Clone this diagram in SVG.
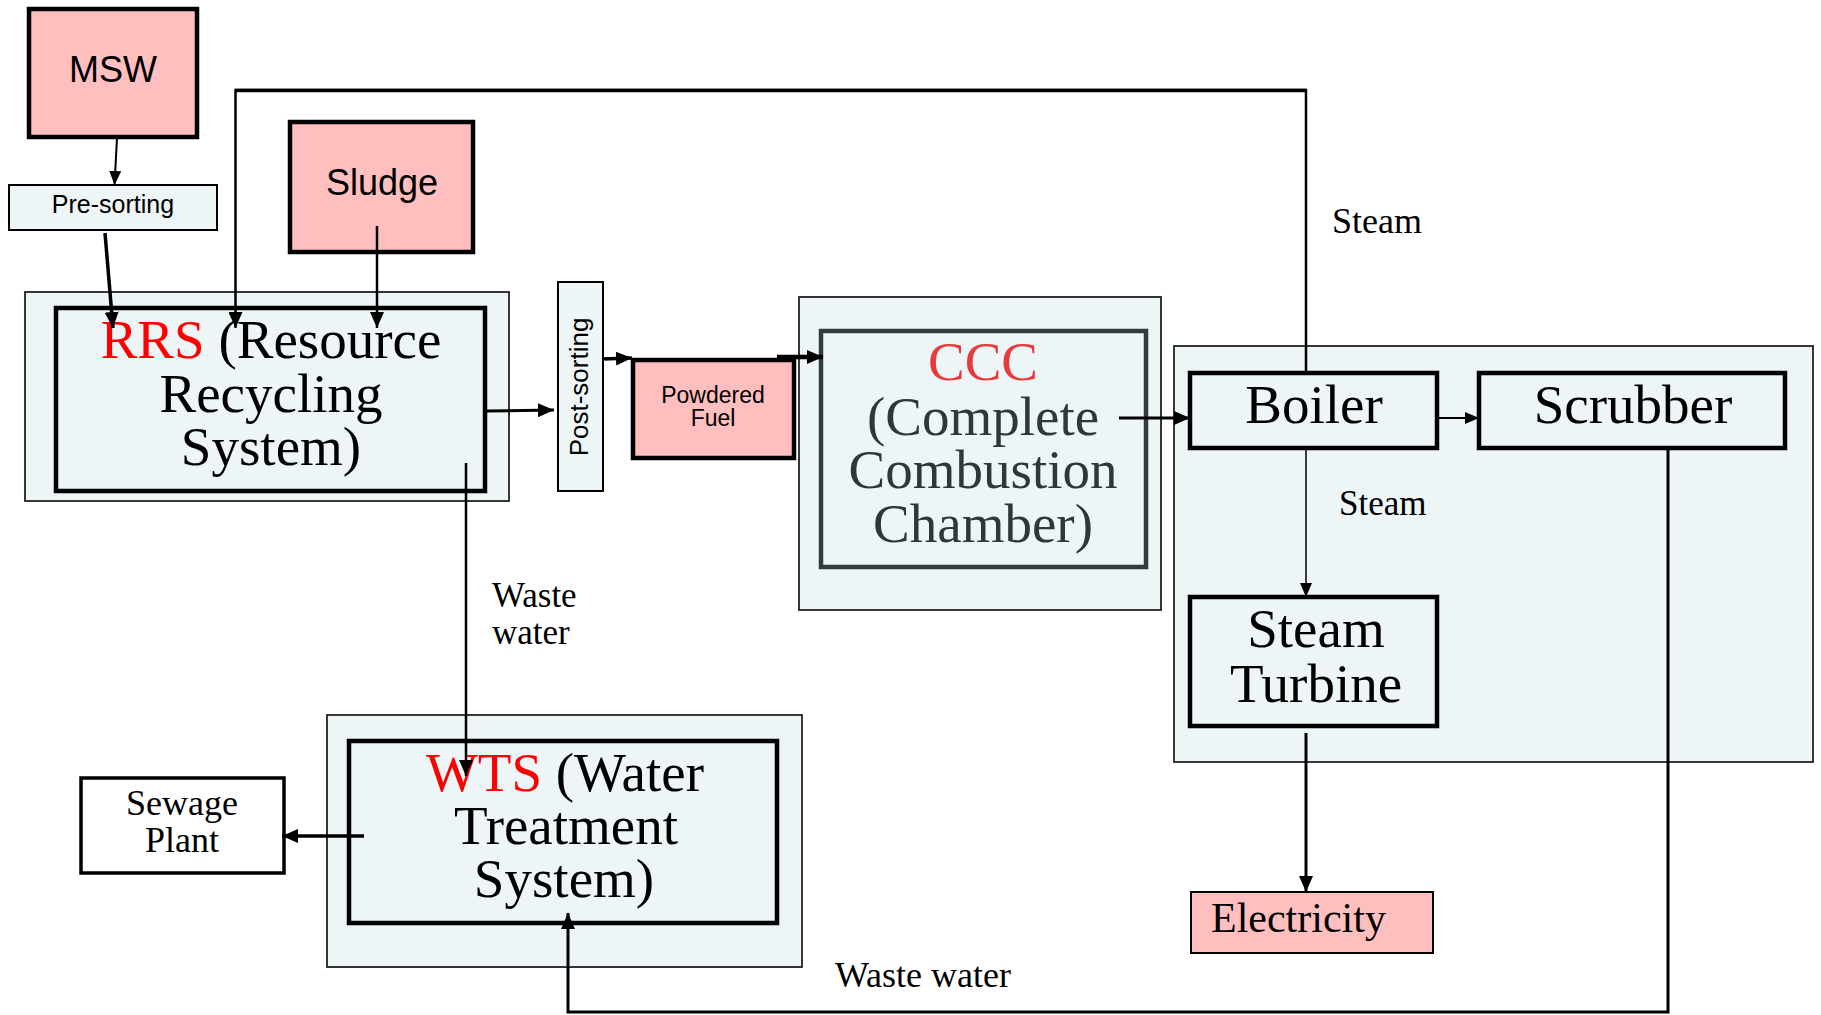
<svg xmlns="http://www.w3.org/2000/svg" width="1821" height="1015" viewBox="0 0 1821 1015">
<style>
.sans{font-family:"Liberation Sans",Arial,sans-serif;fill:#000}
.serif{font-family:"Liberation Serif","Times New Roman",serif;fill:#000}
.big{font-size:55px}
.lbl{font-size:36px}
.pink{fill:#ffbfbf;stroke:#000;stroke-width:4.5}
.cont{fill:#edf5f7;stroke:#222;stroke-width:1.8}
.inner{fill:#edf5f7;stroke:#000;stroke-width:4.5}
.c{fill:none;stroke:#000;stroke-linejoin:miter}
.red{fill:#ff0000}
</style>
<defs>
<marker id="ah" markerUnits="userSpaceOnUse" markerWidth="16" markerHeight="14" refX="16" refY="7" orient="auto">
<path d="M0,0 L16,7 L0,14 z" fill="#000"/>
</marker>
<marker id="ahs" markerUnits="userSpaceOnUse" markerWidth="14" markerHeight="12" refX="14" refY="6" orient="auto">
<path d="M0,0 L14,6 L0,12 z" fill="#000"/>
</marker>
</defs>
<rect width="1821" height="1015" fill="#fff"/>

<g id="msw">
<rect class="pink" x="29" y="9" width="168" height="128"/>
<text class="sans" x="113" y="82" font-size="36" text-anchor="middle">MSW</text>
</g>
<g id="presorting">
<rect x="9" y="185" width="208" height="45" fill="#edf5f7" stroke="#000" stroke-width="2"/>
<text class="sans" x="113" y="213" font-size="25" text-anchor="middle">Pre-sorting</text>
</g>
<g id="sludge">
<rect class="pink" x="290" y="122" width="183" height="130"/>
<text class="sans" x="382" y="195" font-size="36" text-anchor="middle">Sludge</text>
</g>
<g id="rrs">
<rect class="cont" x="25" y="292" width="484" height="209"/>
<rect class="inner" x="56" y="308" width="429" height="183"/>
<text class="serif big" x="271" y="358" text-anchor="middle"><tspan class="red">RRS</tspan> (Resource</text>
<text class="serif big" x="271" y="412" text-anchor="middle">Recycling</text>
<text class="serif big" x="271" y="465" text-anchor="middle">System)</text>
</g>
<g id="postsorting">
<rect x="558" y="282" width="45" height="209" fill="#edf5f7" stroke="#000" stroke-width="2"/>
<text class="sans" font-size="26" text-anchor="middle" transform="translate(588,387) rotate(-90)">Post-sorting</text>
</g>
<g id="powdered">
<rect class="pink" x="633" y="360" width="161" height="98"/>
<text class="sans" x="713" y="403" font-size="23" text-anchor="middle">Powdered</text>
<text class="sans" x="713" y="426" font-size="23" text-anchor="middle">Fuel</text>
</g>
<g id="ccc">
<rect class="cont" x="799" y="297" width="362" height="313"/>
<rect x="821" y="331" width="325" height="236" fill="#edf5f7" stroke="#333c3c" stroke-width="4.5"/>
<text class="serif big" x="983" y="380" text-anchor="middle" fill="#e83a3a" style="fill:#e83a3a">CCC</text>
<text class="serif big" x="983" y="435" text-anchor="middle" style="fill:#2e3838">(Complete</text>
<text class="serif big" x="983" y="488" text-anchor="middle" style="fill:#2e3838">Combustion</text>
<text class="serif big" x="983" y="542" text-anchor="middle" style="fill:#2e3838">Chamber)</text>
</g>
<g id="powerblock">
<rect class="cont" x="1174" y="346" width="639" height="416"/>
</g>
<g id="boiler">
<rect class="inner" x="1190" y="373" width="247" height="75"/>
<text class="serif big" x="1314" y="423" text-anchor="middle">Boiler</text>
</g>
<g id="scrubber">
<rect class="inner" x="1479" y="373" width="306" height="75"/>
<text class="serif big" x="1633" y="423" text-anchor="middle">Scrubber</text>
</g>
<g id="turbine">
<rect class="inner" x="1190" y="597" width="247" height="129"/>
<text class="serif big" x="1316" y="647" text-anchor="middle">Steam</text>
<text class="serif big" x="1316" y="702" text-anchor="middle">Turbine</text>
</g>
<g id="electricity">
<rect x="1191" y="892" width="242" height="61" fill="#ffbfbf" stroke="#000" stroke-width="2"/>
<text class="serif" x="1211" y="932" font-size="42">Electricity</text>
</g>
<g id="wts">
<rect class="cont" x="327" y="715" width="475" height="252"/>
<rect class="inner" x="349" y="741" width="428" height="182"/>
<text class="serif big" x="565" y="791" text-anchor="middle"><tspan class="red">WTS</tspan> (Water</text>
<text class="serif big" x="566" y="844" text-anchor="middle">Treatment</text>
<text class="serif big" x="564" y="897" text-anchor="middle">System)</text>
</g>
<g id="sewage">
<rect x="81" y="778" width="203" height="95" fill="#fff" stroke="#000" stroke-width="3.5"/>
<text class="serif lbl" x="182" y="815" text-anchor="middle">Sewage</text>
<text class="serif lbl" x="182" y="852" text-anchor="middle">Plant</text>
</g>

<g id="connectors">
<path class="c" d="M117,138 L114.5,185" stroke-width="2" marker-end="url(#ahs)"/>
<path class="c" d="M105,233 L113,328" stroke-width="3.5" marker-end="url(#ah)"/>
<path class="c" d="M1306,373 L1306,90 L235.5,90 L235.5,328" stroke-width="2.5" marker-end="url(#ah)"/>
<path class="c" d="M235.5,90.5 L1306,90.5" stroke-width="3.5"/>
<path class="c" d="M377,226 L377,328" stroke-width="2.5" marker-end="url(#ah)"/>
<path class="c" d="M487,411 L554,410" stroke-width="3" marker-end="url(#ah)"/>
<path class="c" d="M602,359 L632,358" stroke-width="3.5" marker-end="url(#ah)"/>
<path class="c" d="M777,357 L823,357" stroke-width="4.5" marker-end="url(#ah)"/>
<path class="c" d="M1119,418 L1190,418" stroke-width="3" marker-end="url(#ah)"/>
<path class="c" d="M1437,418 L1479,418" stroke-width="2" marker-end="url(#ahs)"/>
<path class="c" d="M1306,448 L1306,597" stroke-width="1.5" marker-end="url(#ahs)"/>
<path class="c" d="M1306,733 L1306,892" stroke-width="3" marker-end="url(#ah)"/>
<path class="c" d="M466,463 L466,776" stroke-width="2.5" marker-end="url(#ah)"/>
<path class="c" d="M364,836 L282,836" stroke-width="3.5" marker-end="url(#ah)"/>
<path class="c" d="M1668,448 L1668,1012 L568,1012 L568,913" stroke-width="3" marker-end="url(#ah)"/>
<text class="serif lbl" x="1332" y="233">Steam</text>
<text class="serif" x="1339" y="515" font-size="35">Steam</text>
<text class="serif" x="492" y="607" font-size="35">Waste</text>
<text class="serif" x="492" y="644" font-size="35">water</text>
<text class="serif lbl" x="835" y="987">Waste water</text>
</g>
</svg>
